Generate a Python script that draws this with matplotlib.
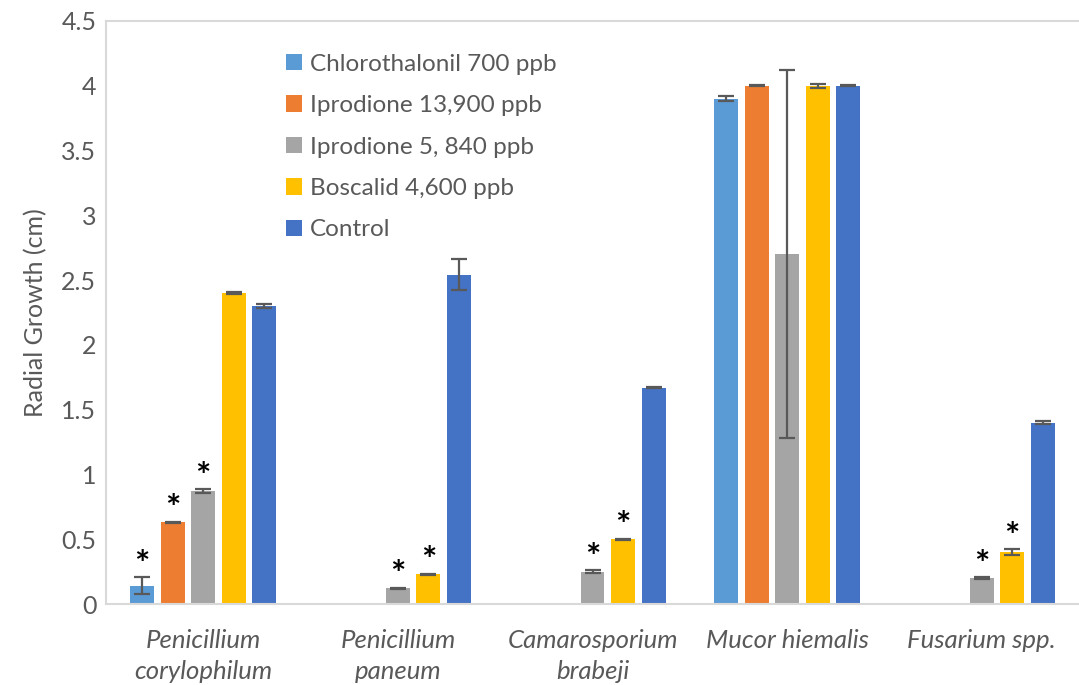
import numpy as np
import matplotlib.pyplot as plt

plt.rcParams['font.family'] = ['Lato', 'DejaVu Sans']

species = ['Penicillium\ncorylophilum', 'Penicillium\npaneum', 'Camarosporium\nbrabeji',
           'Mucor hiemalis', 'Fusarium spp.']
treatments = ['Chlorothalonil 700 ppb', 'Iprodione 13,900 ppb', 'Iprodione 5, 840 ppb',
              'Boscalid 4,600 ppb', 'Control']
colors = ['#5B9BD5', '#ED7D31', '#A5A5A5', '#FFC000', '#4472C4']

# mean radial growth, one list per treatment (order follows species)
chlorothalonil = [0.14, 0.0, 0.0, 3.90, 0.0]
iprodione_13900 = [0.63, 0.0, 0.0, 4.00, 0.0]
iprodione_5840 = [0.87, 0.12, 0.25, 2.70, 0.20]
boscalid = [2.40, 0.23, 0.50, 4.00, 0.40]
control = [2.30, 2.54, 1.67, 4.00, 1.40]

# standard errors
chlorothalonil_err = [0.065, 0.0, 0.0, 0.02, 0.0]
iprodione_13900_err = [0.005, 0.0, 0.0, 0.005, 0.0]
iprodione_5840_err = [0.015, 0.005, 0.01, 1.42, 0.005]
boscalid_err = [0.005, 0.005, 0.005, 0.015, 0.025]
control_err = [0.015, 0.12, 0.005, 0.005, 0.01]

# significant differences from control (marked with *)
sig_chlorothalonil = [True, False, False, False, False]
sig_iprodione_13900 = [True, False, False, False, False]
sig_iprodione_5840 = [True, True, True, False, True]
sig_boscalid = [False, True, True, False, True]
sig_control = [False] * 5

means = [chlorothalonil, iprodione_13900, iprodione_5840, boscalid, control]
errs = [chlorothalonil_err, iprodione_13900_err, iprodione_5840_err, boscalid_err, control_err]
sigs = [sig_chlorothalonil, sig_iprodione_13900, sig_iprodione_5840, sig_boscalid, sig_control]

fig = plt.figure(figsize=(10.79, 6.85), dpi=100)
ax = fig.add_axes([106 / 1079, 81 / 685, 973 / 1079, 583 / 685])

x = np.arange(len(species))
step = 0.157
width = 0.123
txt = '#595959'

for i, (m, e, s) in enumerate(zip(means, errs, sigs)):
    pos = x + (i - 2) * step
    m = np.array(m)
    e = np.array(e)
    show = m > 0
    ax.bar(pos, m, width, color=colors[i], label=treatments[i], zorder=2)
    ax.errorbar(pos[show], m[show], yerr=e[show], fmt='none', ecolor=txt,
                elinewidth=1.6, capsize=6, capthick=1.6, zorder=3)
    for p, v, ev, star in zip(pos, m, e, s):
        if star:
            ax.annotate('*', (p, v + ev), xytext=(0, 1), textcoords='offset points',
                        ha='center', va='baseline', fontsize=26, fontweight='bold',
                        color='black')

ax.set_xlim(-0.5, len(species) - 0.5)
ax.set_ylim(0, 4.5)
ax.set_yticks(np.arange(0, 4.51, 0.5))
ax.set_yticklabels(['0', '0.5', '1', '1.5', '2', '2.5', '3', '3.5', '4', '4.5'])
ax.set_xticks(x)
ax.set_xticklabels(species, style='italic', fontsize=18.5, color=txt, linespacing=1.4)
ax.tick_params(axis='x', length=0, pad=18)
ax.tick_params(axis='y', length=0, pad=7, labelsize=18, labelcolor=txt)
ax.set_ylabel('Radial Growth (cm)', fontsize=18, color=txt, labelpad=10)

for side in ['left', 'top', 'bottom']:
    ax.spines[side].set_color('#D9D9D9')
    ax.spines[side].set_linewidth(1.5)
ax.spines['right'].set_visible(False)

leg = ax.legend(loc='upper left', bbox_to_anchor=(276 / 1079, 1 - 44 / 685),
                bbox_transform=fig.transFigure, frameon=False, fontsize=17.5,
                handlelength=0.65, handleheight=0.65, handletextpad=0.35,
                labelspacing=0.84, borderaxespad=0)
for t in leg.get_texts():
    t.set_color(txt)

fig.savefig('out.png', dpi=100)
